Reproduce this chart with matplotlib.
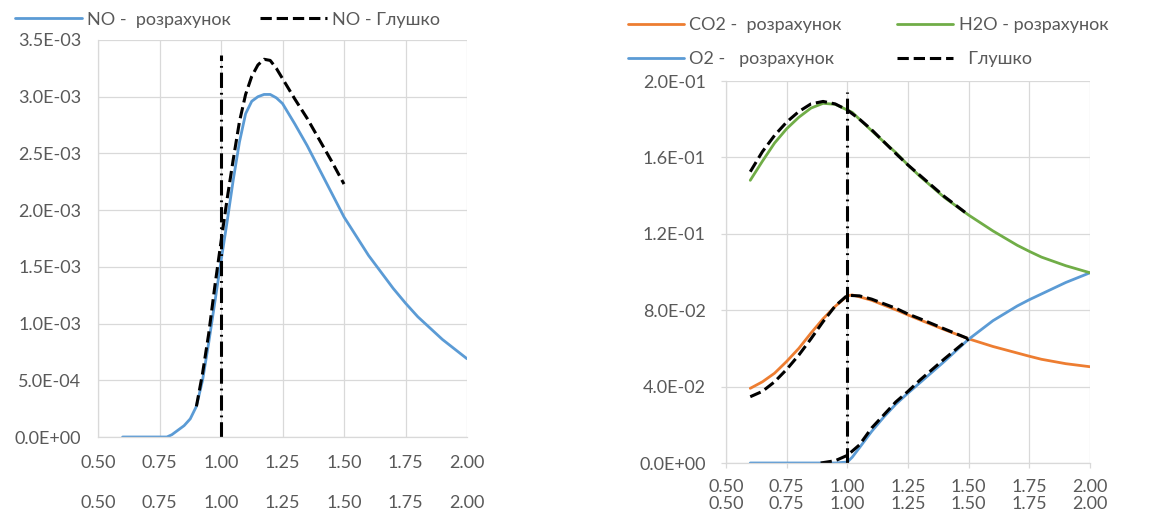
import matplotlib
matplotlib.use("Agg")
import matplotlib.pyplot as plt
from matplotlib.ticker import FuncFormatter

plt.rcParams["font.family"] = ["Lato", "DejaVu Sans"]

TEXT_COLOR = "#595959"
GRID_COLOR = "#D9D9D9"
BLUE = "#5B9BD5"
ORANGE = "#ED7D31"
GREEN = "#70AD47"

# --- left panel: NO ---
no_calc_x = [0.60, 0.70, 0.78, 0.80, 0.85, 0.875, 0.90, 0.925, 0.95, 0.975, 1.00, 1.025,
             1.05, 1.075, 1.10, 1.125, 1.15, 1.175, 1.20, 1.225, 1.25, 1.30, 1.35, 1.40,
             1.45, 1.50, 1.60, 1.70, 1.75, 1.80, 1.90, 2.00]
no_calc_y = [0.0, 0.0, 0.0, 0.02e-3, 0.10e-3, 0.16e-3, 0.27e-3, 0.50e-3, 0.83e-3, 1.19e-3,
             1.55e-3, 1.90e-3, 2.27e-3, 2.60e-3, 2.85e-3, 2.96e-3, 3.00e-3, 3.02e-3, 3.02e-3,
             2.99e-3, 2.94e-3, 2.76e-3, 2.57e-3, 2.36e-3, 2.15e-3, 1.94e-3, 1.60e-3, 1.31e-3,
             1.18e-3, 1.06e-3, 0.86e-3, 0.69e-3]
no_glushko_x = [0.90, 0.925, 0.95, 0.975, 1.00, 1.025, 1.05, 1.075, 1.10, 1.125, 1.15, 1.175,
                1.20, 1.225, 1.25, 1.30, 1.35, 1.40, 1.45, 1.50]
no_glushko_y = [0.27e-3, 0.56e-3, 0.91e-3, 1.33e-3, 1.72e-3, 2.10e-3, 2.45e-3, 2.78e-3,
                3.02e-3, 3.18e-3, 3.28e-3, 3.33e-3, 3.32e-3, 3.25e-3, 3.16e-3, 2.98e-3,
                2.81e-3, 2.62e-3, 2.43e-3, 2.23e-3]
no_marker_x = [1.0, 1.0]
no_marker_y = [0.0, 3.37e-3]

# --- right panel: CO2, H2O, O2 ---
calc_x = [0.60, 0.65, 0.70, 0.75, 0.80, 0.85, 0.90, 0.95, 1.00, 1.02, 1.05, 1.10, 1.15,
          1.20, 1.25, 1.30, 1.40, 1.50, 1.60, 1.70, 1.75, 1.80, 1.90, 2.00]
co2_calc = [0.0391, 0.0425, 0.0470, 0.0532, 0.0600, 0.0680, 0.0755, 0.0820, 0.0875, 0.0880,
            0.0870, 0.0852, 0.0827, 0.0802, 0.0775, 0.0749, 0.0698, 0.0650, 0.0610, 0.0576,
            0.0559, 0.0543, 0.0520, 0.0504]
h2o_calc = [0.1480, 0.1580, 0.1675, 0.1750, 0.1810, 0.1858, 0.1883, 0.1878, 0.1848, 0.1836,
            0.1800, 0.1740, 0.1682, 0.1625, 0.1560, 0.1500, 0.1390, 0.1298, 0.1215, 0.1140,
            0.1108, 0.1078, 0.1033, 0.0996]
o2_calc = [0.0, 0.0, 0.0, 0.0, 0.0, 0.0, 0.0, 0.0, 0.0005, 0.0030,
           0.0080, 0.0165, 0.0240, 0.0308, 0.0366, 0.0421, 0.0532, 0.0648, 0.0745, 0.0822,
           0.0855, 0.0885, 0.0945, 0.0996]

glushko_x = [0.60, 0.65, 0.70, 0.75, 0.80, 0.85, 0.90, 0.95, 1.00, 1.05, 1.10, 1.20, 1.25,
             1.30, 1.40, 1.50]
co2_glushko = [0.0347, 0.0375, 0.0425, 0.0490, 0.0565, 0.0650, 0.0740, 0.0822, 0.0878, 0.0875,
               0.0858, 0.0810, 0.0780, 0.0755, 0.0702, 0.0650]
h2o_glushko = [0.1525, 0.1630, 0.1715, 0.1785, 0.1840, 0.1880, 0.1893, 0.1880, 0.1848, 0.1800,
               0.1745, 0.1620, 0.1560, 0.1505, 0.1395, 0.1298]
o2_glushko_x = [0.89, 0.95, 1.00, 1.05, 1.10, 1.20, 1.25, 1.30, 1.40, 1.50]
o2_glushko = [0.0, 0.0012, 0.0040, 0.0095, 0.0183, 0.0320, 0.0375, 0.0435, 0.0545, 0.0650]
gas_marker_x = [1.0, 1.0]
gas_marker_y = [0.0, 0.194]

x_ticks = [0.50, 0.75, 1.00, 1.25, 1.50, 1.75, 2.00]
no_y_ticks = [0.0, 0.5e-3, 1.0e-3, 1.5e-3, 2.0e-3, 2.5e-3, 3.0e-3, 3.5e-3]
gas_y_ticks = [0.0, 0.04, 0.08, 0.12, 0.16, 0.20]

TICK_FS = 13
LEGEND_FS = 13
DASHDOT = (0, (5, 1.6, 0.6, 1.6))
LINE_KW = dict(linewidth=2.0, solid_joinstyle="round", solid_capstyle="round")
DASH_KW = dict(color="black", linewidth=2.2, linestyle="--", dash_joinstyle="round")

sci = FuncFormatter(lambda v, _: "{:.1E}".format(v))
two = FuncFormatter(lambda v, _: "{:.2f}".format(v))


def style_axes(ax, y_ticks, ticks_out, sec_loc, x_pad, y_pad):
    ax.set_xlim(0.5, 2.0)
    ax.set_ylim(y_ticks[0], y_ticks[-1])
    ax.set_xticks(x_ticks)
    ax.set_yticks(y_ticks)
    ax.xaxis.set_major_formatter(two)
    ax.yaxis.set_major_formatter(sci)
    ax.grid(True, color=GRID_COLOR, linewidth=0.9)
    ax.set_axisbelow(True)
    for side in ("top", "right"):
        ax.spines[side].set_visible(False)
    for side in ("left", "bottom"):
        ax.spines[side].set_color(GRID_COLOR)
        ax.spines[side].set_linewidth(0.9)
    tl = 3.5 if ticks_out else 0
    ax.tick_params(axis="x", length=tl, width=0.9, color=GRID_COLOR, pad=x_pad,
                   labelsize=TICK_FS, labelcolor=TEXT_COLOR)
    ax.tick_params(axis="y", length=tl, width=0.9, color=GRID_COLOR, pad=y_pad,
                   labelsize=TICK_FS, labelcolor=TEXT_COLOR)

    # second row of x labels (secondary axis, like the Excel original)
    sec = ax.secondary_xaxis(sec_loc)
    sec.set_xticks(x_ticks)
    sec.xaxis.set_major_formatter(two)
    sec.spines["bottom"].set_visible(False)
    sec.tick_params(axis="x", length=0, pad=x_pad + (tl * 0.8),
                    labelsize=TICK_FS, labelcolor=TEXT_COLOR)


def main():
    fig = plt.figure(figsize=(11.62, 5.19), dpi=100)

    ax1 = fig.add_axes([98 / 1162, 1 - 437 / 519, 369 / 1162, 397 / 519])
    ax1.plot(no_calc_x, no_calc_y, color=BLUE, label="NO -  розрахунок", **LINE_KW)
    ax1.plot(no_glushko_x, no_glushko_y, label="NO - Глушко", **DASH_KW)
    ax1.plot(no_marker_x, no_marker_y, color="black", linewidth=2.2, linestyle=DASHDOT)
    style_axes(ax1, no_y_ticks, False, -40 / 397, 13, 12)
    ax1.legend(loc="lower left", bbox_to_anchor=(-0.235, 1.022), ncol=2, frameon=False,
               fontsize=LEGEND_FS, labelcolor=TEXT_COLOR, handlelength=3.7,
               handletextpad=0.3, columnspacing=1.6, borderaxespad=0.0, borderpad=0.2)

    ax2 = fig.add_axes([726 / 1162, 1 - 463 / 519, 364 / 1162, 382 / 519])
    ax2.plot(calc_x, co2_calc, color=ORANGE, label="CO2 -  розрахунок", **LINE_KW)
    ax2.plot(calc_x, o2_calc, color=BLUE, label="O2 -   розрахунок", **LINE_KW)
    ax2.plot(calc_x, h2o_calc, color=GREEN, label="H2O - розрахунок", **LINE_KW)
    ax2.plot(glushko_x, co2_glushko, label="  Глушко", **DASH_KW)
    ax2.plot(glushko_x, h2o_glushko, **DASH_KW)
    ax2.plot(o2_glushko_x, o2_glushko, **DASH_KW)
    ax2.plot(gas_marker_x, gas_marker_y, color="black", linewidth=2.2, linestyle=DASHDOT)
    style_axes(ax2, gas_y_ticks, True, -18 / 382, 8, 11)
    ax2.legend(loc="lower left", bbox_to_anchor=(-0.3, 1.008), ncol=2, frameon=False,
               fontsize=LEGEND_FS, labelcolor=TEXT_COLOR, handlelength=3.1,
               handletextpad=0.3, columnspacing=3.1, labelspacing=0.98,
               borderaxespad=0.2)

    fig.savefig("out.png", dpi=100)
    plt.close(fig)


if __name__ == "__main__":
    main()
